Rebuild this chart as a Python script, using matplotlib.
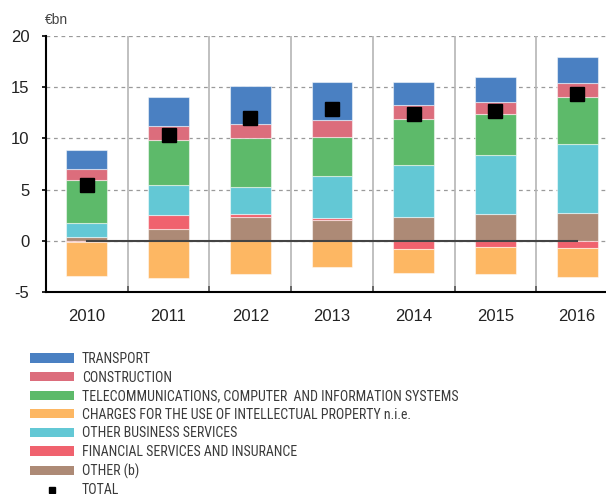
import matplotlib
matplotlib.use("Agg")
import matplotlib.pyplot as plt
import numpy as np
from matplotlib.patches import Patch
from matplotlib.lines import Line2D

years = ["2010", "2011", "2012", "2013", "2014", "2015", "2016"]

# components, in stacking order (bottom first)
other = [0.36, 1.17, 2.32, 1.99, 2.32, 2.64, 2.74]
financial = [-0.10, 1.34, 0.29, 0.23, -0.78, -0.65, -0.75]
other_business = [1.34, 2.97, 2.61, 4.14, 5.06, 5.71, 6.69]
charges_ip = [-3.33, -3.65, -3.23, -2.51, -2.32, -2.64, -2.81]
telecom = [4.23, 4.40, 4.86, 3.82, 4.47, 4.08, 4.60]
construction = [1.05, 1.37, 1.37, 1.66, 1.37, 1.17, 1.40]
transport = [1.86, 2.77, 3.69, 3.65, 2.28, 2.42, 2.48]
total = [5.42, 10.34, 11.97, 12.85, 12.37, 12.69, 14.32]

series = [
    ("OTHER (b)", other, "#ad8a76"),
    ("FINANCIAL SERVICES AND INSURANCE", financial, "#f0626e"),
    ("OTHER BUSINESS SERVICES", other_business, "#63c8d5"),
    ("CHARGES FOR THE USE OF INTELLECTUAL PROPERTY n.i.e.", charges_ip, "#fdb763"),
    ("TELECOMMUNICATIONS, COMPUTER  AND INFORMATION SYSTEMS", telecom, "#5dba6a"),
    ("CONSTRUCTION", construction, "#dc6d7c"),
    ("TRANSPORT", transport, "#4a80c2"),
]
legend_order = [6, 5, 4, 3, 2, 1, 0]

plt.rcParams["axes.unicode_minus"] = False

W, H = 606, 494
fig = plt.figure(figsize=(W / 100, H / 100), dpi=100)
ax = fig.add_axes([46 / W, 1 - 292 / H, 1 - 46 / W, 256 / H])

x = np.arange(len(years))
pos_base = np.zeros(len(years))
neg_base = np.zeros(len(years))
for name, vals, color in series:
    vals = np.array(vals)
    bottom = np.where(vals >= 0, pos_base, neg_base)
    ax.bar(x, vals, width=0.5, bottom=bottom, color=color,
           edgecolor=(1, 1, 1, 0.5), linewidth=0.8, zorder=3)
    pos_base += np.where(vals >= 0, vals, 0)
    neg_base += np.where(vals < 0, vals, 0)

ax.plot(x, np.zeros(len(years)), color="#444444", linewidth=1.5, zorder=4)
ax.plot(x, total, linestyle="none", marker="s", markersize=10,
        color="black", zorder=5)

ax.set_xlim(-0.5, 6.354)
ax.set_ylim(-5, 20)
ax.set_yticks([-5, 0, 5, 10, 15, 20])
ax.set_xticks(x)
ax.set_xticklabels(years)
ax.set_xticks(np.arange(0.5, 6, 1), minor=True)

for v in [-5, 0, 5, 10, 15, 20]:
    ax.axhline(v, color="#9a9a9a", linewidth=0.9, linestyle=(0, (3, 3)), zorder=1)
for v in np.arange(0.5, 6, 1):
    ax.axvline(v, color="#b5b5b5", linewidth=1.2, zorder=1)

for side in ["top", "right"]:
    ax.spines[side].set_visible(False)
for side in ["left", "bottom"]:
    ax.spines[side].set_linewidth(1.5)
    ax.spines[side].set_color("black")
    ax.spines[side].set_zorder(6)

tick_font = ["Liberation Sans", "DejaVu Sans"]
ax.tick_params(axis="y", length=3, width=1.2, pad=9, labelsize=12,
               labelcolor="#222222")
ax.tick_params(axis="x", which="major", length=0, pad=12, labelsize=12,
               labelcolor="#222222")
ax.tick_params(axis="x", which="minor", direction="in", length=4,
               width=1.2, color="#555555")
for lab in ax.get_xticklabels() + ax.get_yticklabels():
    lab.set_family(tick_font)

fig.text(45 / W, 1 - 20.5 / H, "€bn", fontsize=10, color="#444444",
         ha="left", va="center", family=tick_font)

handles = [Patch(facecolor=series[i][2], edgecolor="none") for i in legend_order]
labels = [series[i][0] for i in legend_order]
handles.append(Line2D([], [], linestyle="none", marker="s", markersize=5,
                      color="black"))
labels.append("TOTAL")
fig.legend(handles, labels, loc="upper left",
           bbox_to_anchor=(23 / W, 1 - 345 / H), frameon=False,
           prop={"family": ["Roboto Condensed", "DejaVu Sans"], "size": 10},
           handlelength=3.2, handleheight=0.65, handletextpad=0.55,
           labelspacing=0.33, borderpad=0, labelcolor="#3a3a3a")

fig.savefig("out.png", dpi=100)
